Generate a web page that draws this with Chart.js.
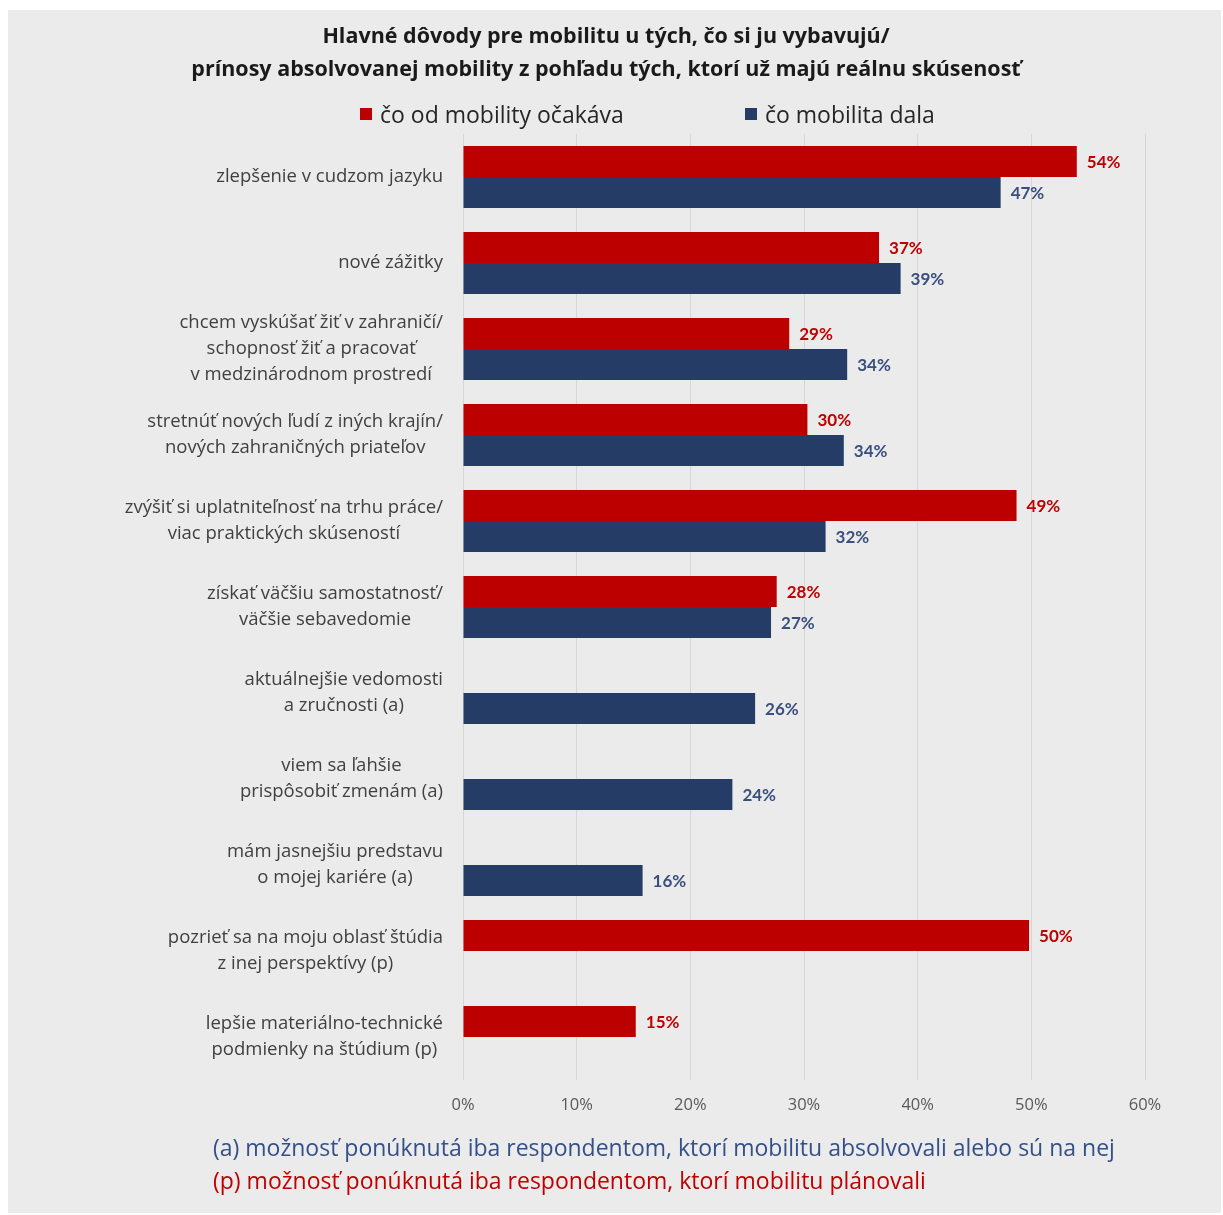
<!DOCTYPE html>
<html>
<head>
<meta charset="utf-8">
<script src="https://cdn.jsdelivr.net/npm/chart.js@4"></script>
<style>
  body { margin: 0; background: #ffffff; font-family: "Open Sans", sans-serif; }
  #panel { position: absolute; left: 8px; top: 10px; width: 1213px; height: 1203px; background: #ebebeb; }
  #chart { position: absolute; left: 0; top: 0; }
  .legend-item { position: absolute; top: 88px; display: flex; align-items: center; font-size: 23px; color: #262626; }
  .legend-box { width: 12px; height: 12px; margin-right: 8px; }
  .note { position: absolute; left: 205px; font-size: 23px; white-space: nowrap; }
</style>
</head>
<body>
<div id="panel">
  <canvas id="chart" width="1213" height="1203"></canvas>
  <div id="legend"></div>
  <div class="note" id="noteA" style="top:1121px; color:#34508a;"></div>
  <div class="note" id="noteP" style="top:1154px; color:#c00000;"></div>
</div>
<script>
// Data
const categories = [
    ['zlepšenie v cudzom jazyku'],
    ['nové zážitky'],
    ['chcem vyskúšať žiť v zahraničí/', 'schopnosť žiť a pracovať', 'v medzinárodnom prostredí'],
    ['stretnúť nových ľudí z iných krajín/', 'nových zahraničných priateľov'],
    ['zvýšiť si uplatniteľnosť na trhu práce/', 'viac praktických skúseností'],
    ['získať väčšiu samostatnosť/', 'väčšie sebavedomie'],
    ['aktuálnejšie vedomosti', 'a zručnosti (a)'],
    ['viem sa ľahšie', 'prispôsobiť zmenám (a)'],
    ['mám jasnejšiu predstavu', 'o mojej kariére (a)'],
    ['pozrieť sa na moju oblasť štúdia', 'z inej perspektívy (p)'],
    ['lepšie materiálno-technické', 'podmienky na štúdium (p)']
];
const expected = [54.0, 36.6, 28.7, 30.3, 48.7, 27.6, null, null, null, 49.8, 15.2];
const received = [47.3, 38.5, 33.8, 33.5, 31.9, 27.1, 25.7, 23.7, 15.8, null, null];
const seriesNames = ['čo od mobility očakáva', 'čo mobilita dala'];
const xTicks = [0, 10, 20, 30, 40, 50, 60];

const titleLines = [
    'Hlavné dôvody pre mobilitu u tých, čo si ju vybavujú/',
    'prínosy absolvovanej mobility z pohľadu tých, ktorí už majú reálnu skúsenosť'
];
const noteA = '(a) možnosť ponúknutá iba respondentom, ktorí mobilitu absolvovali alebo sú na nej';
const noteP = '(p) možnosť ponúknutá iba respondentom, ktorí mobilitu plánovali';

// Styles
const RED = '#bc0000';
const BLUE = '#243c66';
const RED_LABEL = '#c00000';
const BLUE_LABEL = '#3a4f7f';
const legendLeft = [352, 737];

// Category labels: lines centred on each other, block right-aligned to the axis
const categoryLabels = {
    id: 'categoryLabels',
    afterDraw(chart) {
        const ctx = chart.ctx;
        const yScale = chart.scales.y;
        const right = chart.chartArea.left - 20;
        const lineH = 26;
        ctx.save();
        ctx.font = '18.5px "Open Sans"';
        ctx.fillStyle = '#404040';
        ctx.textAlign = 'center';
        ctx.textBaseline = 'middle';
        categories.forEach((lines, i) => {
            const maxW = Math.max(...lines.map(l => ctx.measureText(l).width));
            const cx = right - maxW / 2;
            const cy = yScale.getPixelForValue(i);
            lines.forEach((line, j) => {
                ctx.fillText(line, cx, cy + (j - (lines.length - 1) / 2) * lineH);
            });
        });
        ctx.restore();
    }
};

// Value labels at the end of each bar
const valueLabels = {
    id: 'valueLabels',
    afterDatasetsDraw(chart) {
        const ctx = chart.ctx;
        ctx.save();
        ctx.font = 'bold 17px Lato';
        ctx.textBaseline = 'middle';
        ctx.textAlign = 'left';
        chart.data.datasets.forEach((ds, di) => {
            const meta = chart.getDatasetMeta(di);
            ctx.fillStyle = di === 0 ? RED_LABEL : BLUE_LABEL;
            meta.data.forEach((bar, i) => {
                const v = ds.data[i];
                if (v === null) return;
                ctx.fillText(Math.round(v) + '%', bar.x + 10, bar.y + 1);
            });
        });
        ctx.restore();
    }
};

const ctx = document.getElementById('chart').getContext('2d');
const chart = new Chart(ctx, {
    type: 'bar',
    data: {
        labels: categories,
        datasets: [
            { label: seriesNames[0], data: expected, backgroundColor: RED },
            { label: seriesNames[1], data: received, backgroundColor: BLUE }
        ]
    },
    options: {
        indexAxis: 'y',
        responsive: false,
        animation: false,
        categoryPercentage: 0.72,
        barPercentage: 1.0,
        layout: { padding: { left: 59, right: 76, top: 0, bottom: 83 } },
        plugins: {
            legend: { display: false },
            tooltip: { enabled: false },
            title: {
                display: true,
                text: titleLines,
                color: '#1a1a1a',
                font: { family: 'Open Sans', size: 21.5, weight: 'bold', lineHeight: '33px' },
                padding: { top: 10, bottom: 48 }
            }
        },
        scales: {
            x: {
                min: 0,
                max: 60,
                afterBuildTicks: (scale) => { scale.ticks = xTicks.map(v => ({ value: v })); },
                afterFit: (scale) => { scale.height = 50; },
                grid: { color: '#d6d6d6', lineWidth: 1, drawTicks: false },
                border: { display: false },
                ticks: {
                    padding: 15,
                    color: '#595959',
                    font: { family: 'Open Sans', size: 16.5 },
                    callback: (v) => v + '%'
                }
            },
            y: {
                grid: { display: false },
                border: { display: false },
                ticks: { display: false },
                afterFit: (scale) => { scale.width = 396; }
            }
        }
    },
    plugins: [categoryLabels, valueLabels]
});

// Legend built from the datasets
const legendEl = document.getElementById('legend');
chart.data.datasets.forEach((ds, i) => {
    const item = document.createElement('div');
    item.className = 'legend-item';
    item.style.left = legendLeft[i] + 'px';
    item.innerHTML = '<span class="legend-box" style="background:' + ds.backgroundColor + '"></span><span>' + ds.label + '</span>';
    legendEl.appendChild(item);
});

document.getElementById('noteA').textContent = noteA;
document.getElementById('noteP').textContent = noteP;
</script>
</body>
</html>
